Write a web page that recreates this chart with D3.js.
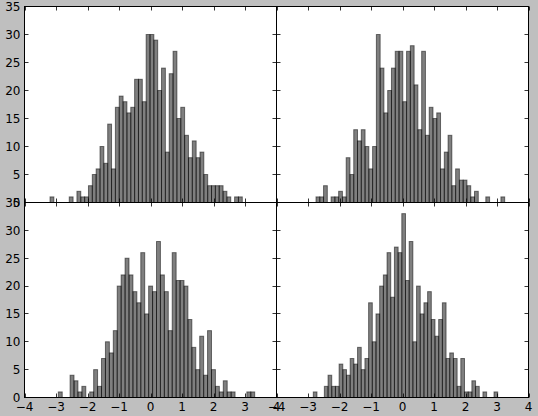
<!DOCTYPE html>
<html>
<head>
<meta charset="utf-8">
<script src="https://cdn.jsdelivr.net/npm/d3@7"></script>
<style>
  body { margin: 0; background: #bfbfbf; }
  svg { display: block; }
</style>
</head>
<body>
<svg id="chart" width="538" height="416"></svg>
<script>
// 50-bin histogram counts (500 samples each)
var countsTopLeft = [1,0,0,0,0,1,0,2,1,1,3,5,6,10,7,14,6,17,19,18,16,17,22,22,18,30,30,29,20,24,9,23,27,15,17,12,8,11,8,9,5,3,3,3,3,2,1,0,1,1];
var countsTopRight = [1,1,3,0,1,1,2,1,8,5,13,11,13,10,6,10,30,24,16,20,24,27,27,18,27,28,21,13,27,12,17,15,16,6,9,12,3,6,4,4,3,1,2,0,0,1,0,0,0,1];
var countsBottomLeft = [1,0,0,4,3,1,2,0,1,5,2,7,10,8,12,20,22,25,22,19,17,26,15,20,19,28,22,19,12,26,21,21,20,14,9,5,11,4,12,5,2,1,3,1,1,0,0,0,1,1];
var countsBottomRight = [1,0,0,2,4,2,2,6,5,4,7,6,9,5,7,17,10,15,20,22,26,18,27,26,33,21,28,10,20,15,17,19,14,11,14,17,7,8,7,2,7,1,1,3,2,0,1,0,0,1];

// min / max of each sample (first and last bin edge)
var rangeTopLeft = [-3.190, 2.914];
var rangeTopRight = [-2.746, 3.244];
var rangeBottomLeft = [-2.927, 3.308];
var rangeBottomRight = [-2.832, 3.022];

var xTicks = [-4, -3, -2, -1, 0, 1, 2, 3, 4];
var yTicks = [0, 5, 10, 15, 20, 25, 30, 35];
var xDomain = [-4, 4];
var yDomain = [0, 35];

var svg = d3.select('#chart');
var fmt = function (d) { return d < 0 ? '\u2212' + Math.abs(d) : String(d); };

var panels = [
    {id: 'tl', counts: countsTopLeft, range: rangeTopLeft, x: [24.5, 276.5], y: [202.5, 6.5], xlab: false, ylab: true},
    {id: 'tr', counts: countsTopRight, range: rangeTopRight, x: [276.5, 528.5], y: [202.5, 6.5], xlab: false, ylab: false},
    {id: 'bl', counts: countsBottomLeft, range: rangeBottomLeft, x: [24.5, 276.5], y: [397.5, 202.5], xlab: true, ylab: true},
    {id: 'br', counts: countsBottomRight, range: rangeBottomRight, x: [276.5, 528.5], y: [397.5, 202.5], xlab: true, ylab: false}
];

panels.forEach(function (p) {
    var xs = d3.scaleLinear().domain(xDomain).range(p.x),
        ys = d3.scaleLinear().domain(yDomain).range(p.y),
        g = svg.append('g'),
        n = p.counts.length,
        step = (p.range[1] - p.range[0]) / n;

    g.append('clipPath').attr('id', 'clip-' + p.id)
        .append('rect')
        .attr('x', p.x[0]).attr('y', p.y[1])
        .attr('width', p.x[1] - p.x[0]).attr('height', p.y[0] - p.y[1]);

    // axes background
    g.append('rect')
        .attr('x', p.x[0]).attr('y', p.y[1])
        .attr('width', p.x[1] - p.x[0]).attr('height', p.y[0] - p.y[1])
        .attr('fill', '#fff');

    // bars
    g.append('g').attr('clip-path', 'url(#clip-' + p.id + ')')
        .selectAll('rect')
        .data(p.counts)
        .enter().append('rect')
        .attr('x', function (d, i) { return xs(p.range[0] + i * step); })
        .attr('width', function (d, i) { return xs(p.range[0] + (i + 1) * step) - xs(p.range[0] + i * step); })
        .attr('y', function (d) { return ys(d); })
        .attr('height', function (d) { return ys(0) - ys(d); })
        .attr('fill', '#000').attr('fill-opacity', 0.5)
        .attr('stroke', '#000').attr('stroke-opacity', 0.5)
        .attr('stroke-width', 1);

    // ticks, inside, on all four sides
    var tk = g.append('g').attr('stroke', '#000').attr('stroke-width', 0.8);
    xTicks.forEach(function (t) {
        var x = Math.round(xs(t)) + 0.5;
        tk.append('line').attr('x1', x).attr('x2', x).attr('y1', p.y[0]).attr('y2', p.y[0] - 4);
        tk.append('line').attr('x1', x).attr('x2', x).attr('y1', p.y[1]).attr('y2', p.y[1] + 4);
    });
    yTicks.forEach(function (t) {
        var y = Math.round(ys(t) - 0.5) + 0.5;
        tk.append('line').attr('y1', y).attr('y2', y).attr('x1', p.x[0]).attr('x2', p.x[0] + 4);
        tk.append('line').attr('y1', y).attr('y2', y).attr('x1', p.x[1]).attr('x2', p.x[1] - 4);
    });

    // spines
    g.append('rect')
        .attr('x', p.x[0]).attr('y', p.y[1])
        .attr('width', p.x[1] - p.x[0]).attr('height', p.y[0] - p.y[1])
        .attr('fill', 'none').attr('stroke', '#000').attr('stroke-width', 1);

    var lab = g.append('g')
        .attr('font-family', '"DejaVu Sans", sans-serif')
        .attr('font-size', 12).attr('fill', '#000');
    if (p.ylab) {
        lab.selectAll('.yl').data(yTicks).enter().append('text')
            .attr('x', p.x[0] - 4)
            .attr('y', function (d) { return ys(d) + 4.4; })
            .attr('text-anchor', 'end')
            .text(fmt);
    }
    if (p.xlab) {
        lab.selectAll('.xl').data(xTicks).enter().append('text')
            .attr('x', function (d) { return xs(d); })
            .attr('y', p.y[0] + 13.5)
            .attr('text-anchor', 'middle')
            .text(fmt);
    }
});
</script>
</body>
</html>
